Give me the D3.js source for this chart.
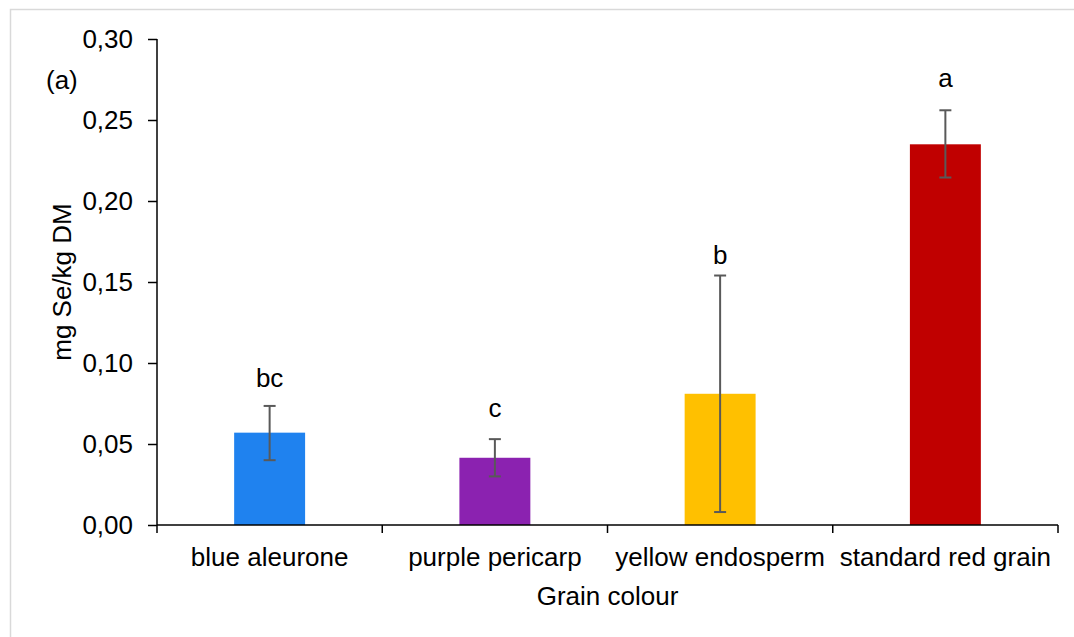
<!DOCTYPE html>
<html>
<head>
<meta charset="utf-8">
<script src="https://cdn.jsdelivr.net/npm/d3@7"></script>
<style>
  body { margin: 0; background: #fff; }
  text { font-family: "Liberation Sans", Arial, sans-serif; fill: #000; }
</style>
</head>
<body>
<svg id="chart" width="1074" height="637"></svg>
<script>
// Chart data
const categories = ["blue aleurone", "purple pericarp", "yellow endosperm", "standard red grain"];
const means = [0.057, 0.0415, 0.081, 0.235];
const errLow = [0.040, 0.030, 0.008, 0.2145];
const errHigh = [0.0735, 0.053, 0.154, 0.256];
const letters = ["bc", "c", "b", "a"];
const letterPos = [0.0905, 0.072, 0.167, 0.276];
const colors = ["#1f82ef", "#8b22b0", "#ffc000", "#c00000"];
const yTicks = [0, 0.05, 0.10, 0.15, 0.20, 0.25, 0.30];

const FS = "26px";

const svg = d3.select("#chart"),
      margin = { top: 39, right: 16, bottom: 112, left: 157 },
      width = +svg.attr("width"),
      height = +svg.attr("height");

// Light frame around the chart area
svg.append("rect")
    .attr("x", 10.5).attr("y", 9.5)
    .attr("width", 1100).attr("height", 700)
    .attr("fill", "none")
    .attr("stroke", "#d9d9d9")
    .attr("stroke-width", 1.5);

const x = d3.scaleBand()
    .domain(categories)
    .range([margin.left, width - margin.right]);

const y = d3.scaleLinear()
    .domain([0, 0.30])
    .range([height - margin.bottom, margin.top]);

const barW = x.bandwidth() * 0.315;
const cx = c => x(c) + x.bandwidth() / 2;

// Bars
svg.selectAll(".bar")
    .data(categories)
    .enter()
    .append("rect")
    .attr("class", "bar")
    .attr("x", d => cx(d) - barW / 2)
    .attr("y", (d, i) => y(means[i]))
    .attr("width", barW)
    .attr("height", (d, i) => y(0) - y(means[i]))
    .attr("fill", (d, i) => colors[i]);

// Error bars
const err = svg.selectAll(".err")
    .data(categories)
    .enter()
    .append("g")
    .attr("class", "err")
    .attr("stroke", "#595959")
    .attr("stroke-width", 2);

err.append("line")
    .attr("x1", d => cx(d)).attr("x2", d => cx(d))
    .attr("y1", (d, i) => y(errLow[i]))
    .attr("y2", (d, i) => y(errHigh[i]));
err.append("line")
    .attr("x1", d => cx(d) - 6).attr("x2", d => cx(d) + 6)
    .attr("y1", (d, i) => y(errLow[i]))
    .attr("y2", (d, i) => y(errLow[i]));
err.append("line")
    .attr("x1", d => cx(d) - 6).attr("x2", d => cx(d) + 6)
    .attr("y1", (d, i) => y(errHigh[i]))
    .attr("y2", (d, i) => y(errHigh[i]));

// Significance letters
svg.selectAll(".letter")
    .data(categories)
    .enter()
    .append("text")
    .attr("class", "letter")
    .attr("x", d => cx(d))
    .attr("y", (d, i) => y(letterPos[i]))
    .attr("dy", "0.35em")
    .attr("text-anchor", "middle")
    .style("font-size", FS)
    .text((d, i) => letters[i]);

// Axes
const yAxis = svg.append("g")
    .attr("transform", `translate(${margin.left},0)`)
    .call(d3.axisLeft(y)
        .tickValues(yTicks)
        .tickSize(9)
        .tickPadding(15)
        .tickFormat(d => d3.format(".2f")(d).replace(".", ",")));

const xAxis = svg.append("g")
    .attr("transform", `translate(0,${height - margin.bottom})`)
    .call(d3.axisBottom(x).tickSize(0).tickPadding(23));

// category boundary ticks
xAxis.selectAll(".bound")
    .data(categories.concat([null]))
    .enter()
    .append("line")
    .attr("class", "bound")
    .attr("x1", d => d === null ? width - margin.right : x(d))
    .attr("x2", d => d === null ? width - margin.right : x(d))
    .attr("y1", 0).attr("y2", 8)
    .attr("stroke", "#000")
    .attr("stroke-width", 1.5);

[xAxis, yAxis].forEach(g => {
    g.attr("font-size", null).attr("font-family", null);
    g.select(".domain").attr("stroke", "#000").attr("stroke-width", 1.5);
    g.selectAll(".tick line").attr("stroke", "#000").attr("stroke-width", 1.5);
    g.selectAll("text").style("font-size", FS).attr("fill", "#000");
});
xAxis.select(".domain").attr("d", `M${margin.left},0H${width - margin.right}`);
yAxis.select(".domain").attr("d", `M0,${y(0.30)}V${y(0)}`);

// Axis titles
svg.append("text")
    .attr("x", (margin.left + width - margin.right) / 2)
    .attr("y", 605)
    .attr("text-anchor", "middle")
    .style("font-size", FS)
    .text("Grain colour");

svg.append("text")
    .attr("transform", `translate(71,${(y(0) + y(0.30)) / 2}) rotate(-90)`)
    .attr("text-anchor", "middle")
    .style("font-size", FS)
    .text("mg Se/kg DM");

svg.append("text")
    .attr("x", 46)
    .attr("y", 89)
    .style("font-size", FS)
    .text("(a)");
</script>
</body>
</html>
